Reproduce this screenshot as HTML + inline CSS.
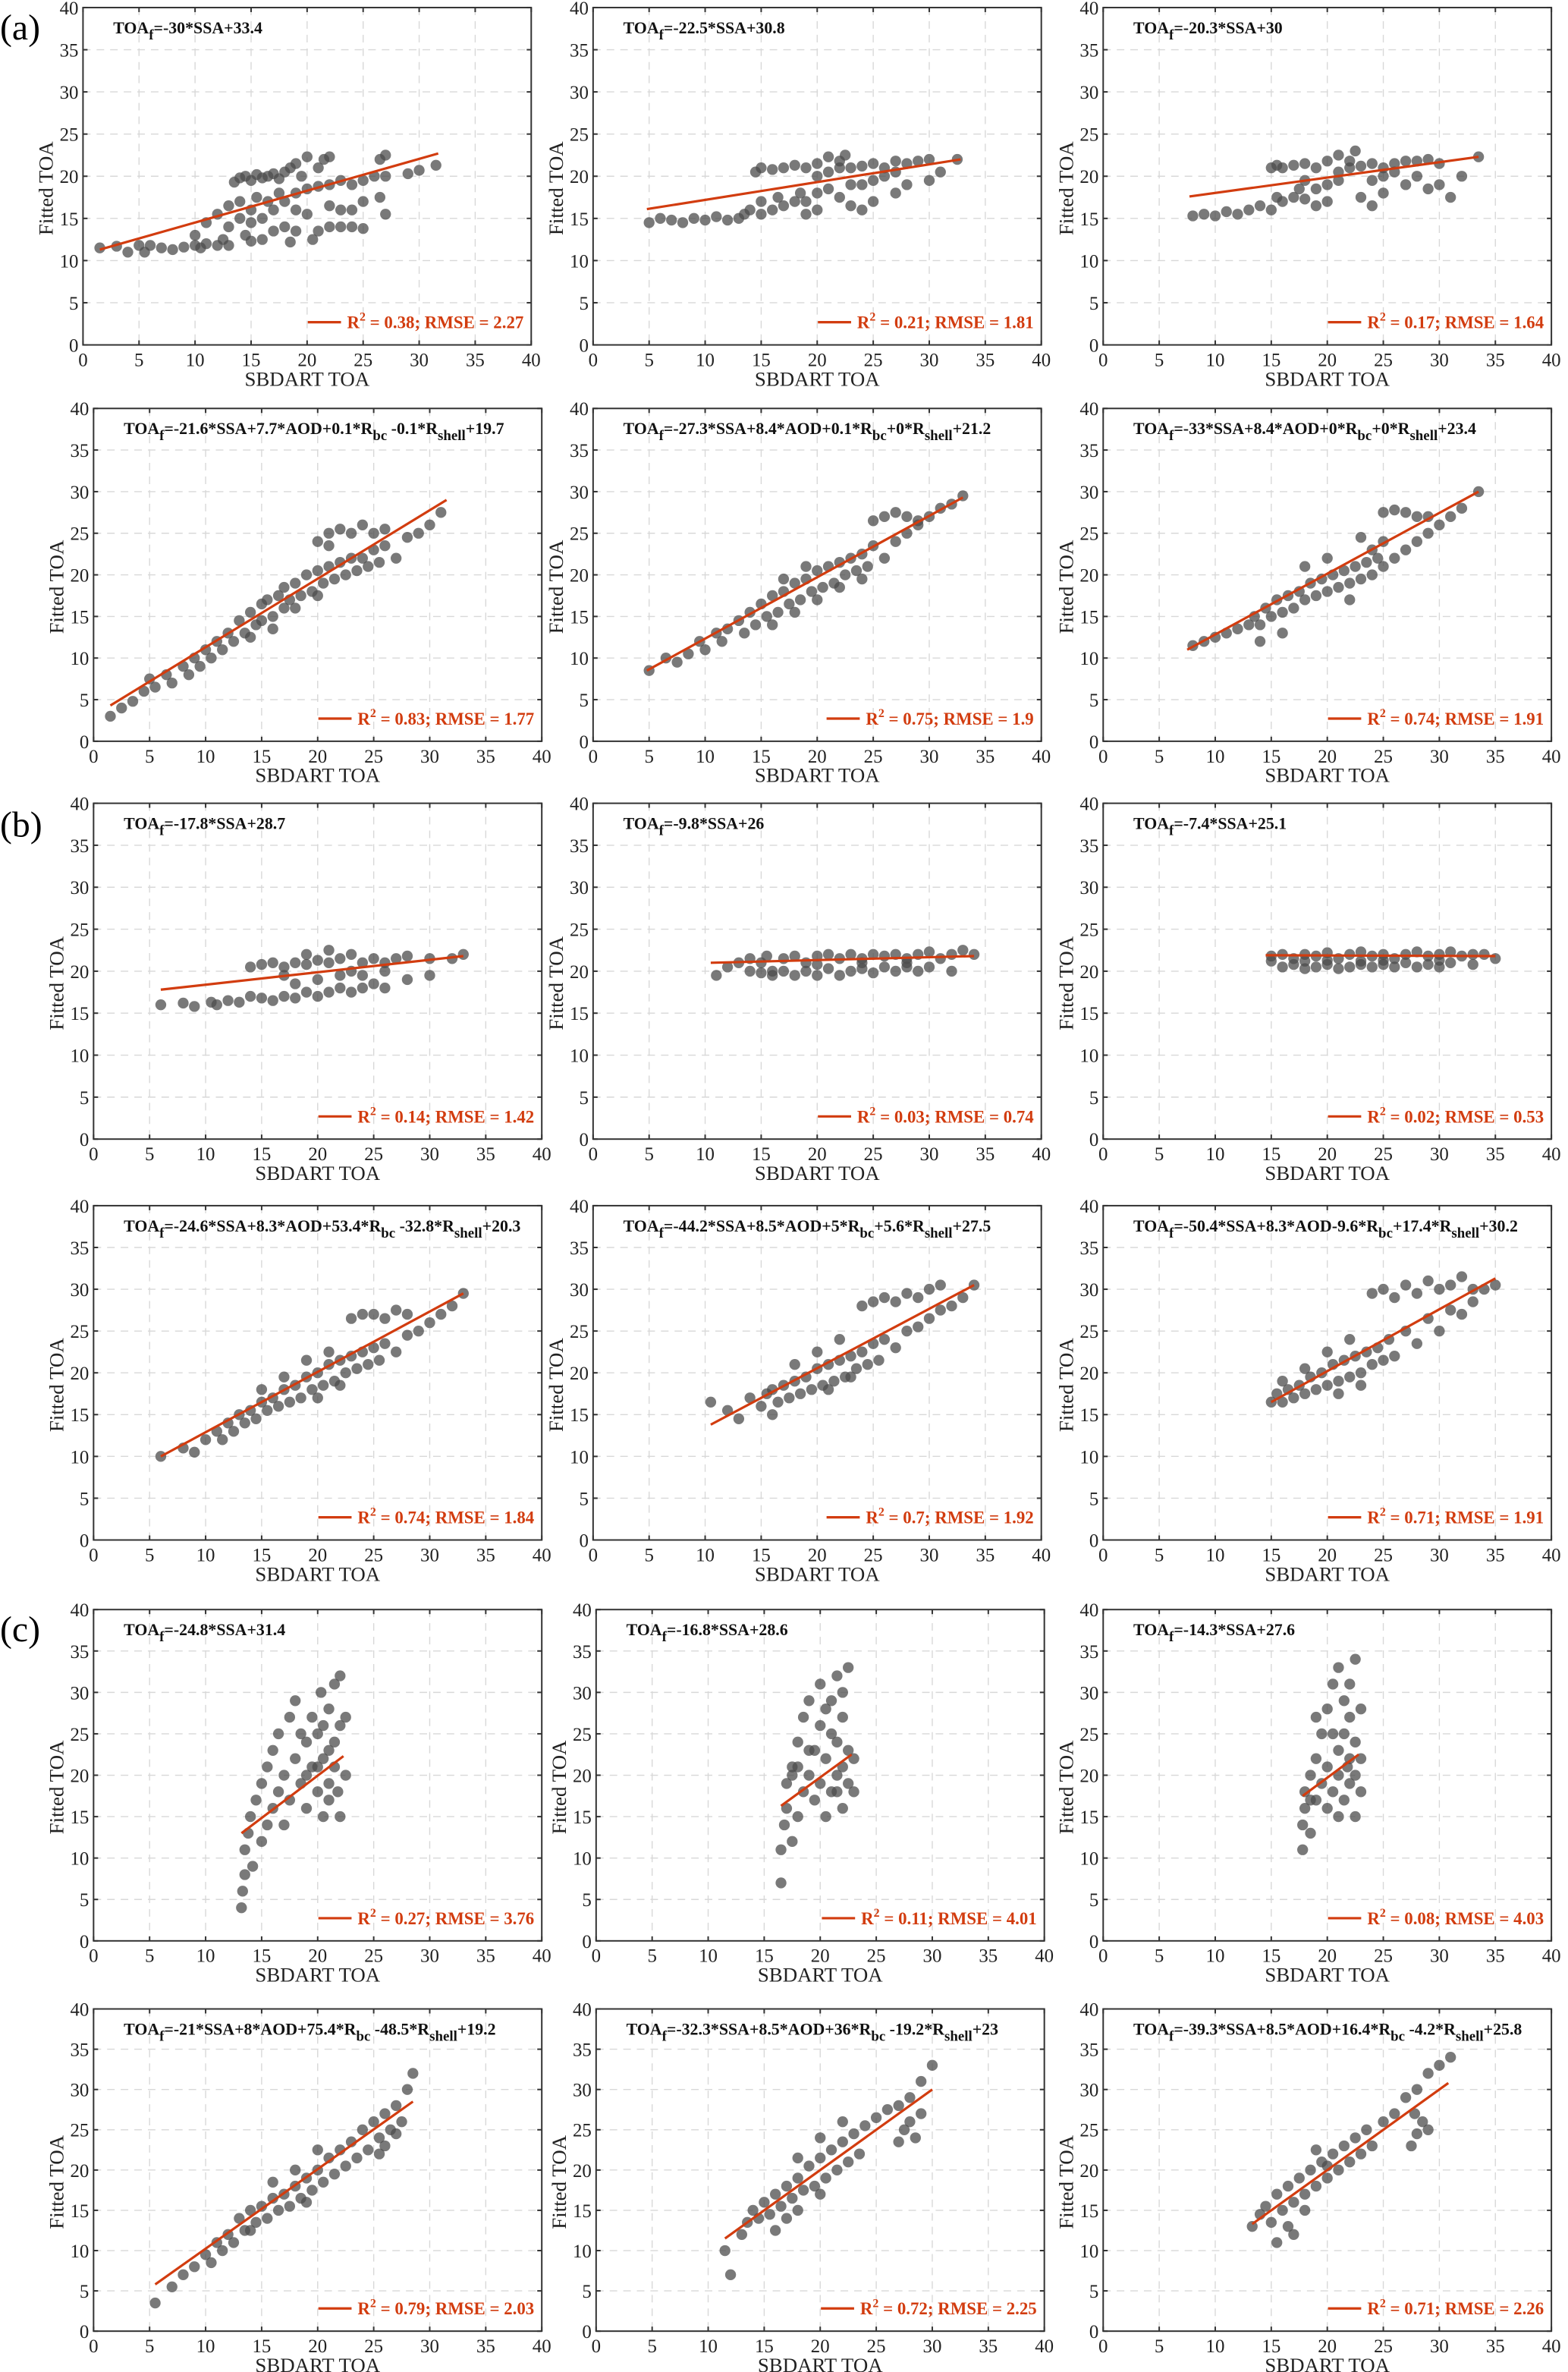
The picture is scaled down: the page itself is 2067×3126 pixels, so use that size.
<!DOCTYPE html>
<html><head><meta charset="utf-8"><style>
html,body{margin:0;padding:0;background:#fff;}
svg{display:block;}
svg text{font-family:"Liberation Serif","Times New Roman",serif;}
</style></head><body>
<svg id="fig" width="2067" height="3126" viewBox="0 0 1039 1568" preserveAspectRatio="none" xmlns="http://www.w3.org/2000/svg"></svg>
<script>
// ---- data ----
const xTicks=[0,5,10,15,20,25,30,35,40];
const yTicks=[0,5,10,15,20,25,30,35,40];
const panelIds=["a1","a2","a3","a4","a5","a6","b1","b2","b3","b4","b5","b6","c1","c2","c3","c4","c5","c6"];
const equations=[
"TOA_{f}=-30*SSA+33.4","TOA_{f}=-22.5*SSA+30.8","TOA_{f}=-20.3*SSA+30",
"TOA_{f}=-21.6*SSA+7.7*AOD+0.1*R_{bc} -0.1*R_{shell}+19.7","TOA_{f}=-27.3*SSA+8.4*AOD+0.1*R_{bc}+0*R_{shell}+21.2","TOA_{f}=-33*SSA+8.4*AOD+0*R_{bc}+0*R_{shell}+23.4",
"TOA_{f}=-17.8*SSA+28.7","TOA_{f}=-9.8*SSA+26","TOA_{f}=-7.4*SSA+25.1",
"TOA_{f}=-24.6*SSA+8.3*AOD+53.4*R_{bc} -32.8*R_{shell}+20.3","TOA_{f}=-44.2*SSA+8.5*AOD+5*R_{bc}+5.6*R_{shell}+27.5","TOA_{f}=-50.4*SSA+8.3*AOD-9.6*R_{bc}+17.4*R_{shell}+30.2",
"TOA_{f}=-24.8*SSA+31.4","TOA_{f}=-16.8*SSA+28.6","TOA_{f}=-14.3*SSA+27.6",
"TOA_{f}=-21*SSA+8*AOD+75.4*R_{bc} -48.5*R_{shell}+19.2","TOA_{f}=-32.3*SSA+8.5*AOD+36*R_{bc} -19.2*R_{shell}+23","TOA_{f}=-39.3*SSA+8.5*AOD+16.4*R_{bc} -4.2*R_{shell}+25.8"];
const r2Values=["0.38","0.21","0.17","0.83","0.75","0.74","0.14","0.03","0.02","0.74","0.7","0.71","0.27","0.11","0.08","0.79","0.72","0.71"];
const rmseValues=["2.27","1.81","1.64","1.77","1.9","1.91","1.42","0.74","0.53","1.84","1.92","1.91","3.76","4.01","4.03","2.03","2.25","2.26"];
const fitX0=[1.5,4.8,7.7,1.5,4.8,7.5,6,10.5,14.5,6,10.5,15,13.2,16.5,17.8,5.5,11.5,13.3];
const fitY0=[11.3,16.1,17.6,4.3,8.5,11,17.8,21,21.9,10,13.8,16.5,13,16.3,17.5,5.8,11.5,13.3];
const fitX1=[31.7,32.8,33.5,31.5,33,33.5,33,34,35,33,34,35,22.3,22.8,22.8,28.5,30,30.8];
const fitY1=[22.7,22,22.3,29,29.3,30,21.8,21.8,21.8,29.5,30.5,31.3,22.3,22.5,22.5,28.5,30,30.8];
const pointsA1=[[1.5,11.5],[3,11.7],[4,11],[5,11.8],[5.5,11],[6,11.8],[7,11.5],[8,11.3],[9,11.6],[10,11.8],[10.5,11.5],[11,12],[12,11.8],[12.5,12.5],[13,11.8],[10,13],[11,14.5],[12,15.5],[13,14],[13,16.5],[14,15],[14,17],[14.5,13],[15,14.5],[15,16],[15.5,17.5],[16,15],[16.5,17],[17,16],[17.5,18],[18,17],[13.5,19.3],[14,19.8],[14.5,20],[15,19.5],[15.5,20.2],[16,19.8],[16.5,20],[17,20.3],[17.5,19.7],[18,20.5],[18.5,21],[19,21.5],[19.5,20],[20,22.3],[21,21],[21.5,22],[22,22.3],[19,18],[20,18.5],[21,18.8],[22,19],[23,19.5],[24,19],[25,19.5],[26,20],[27,20],[27,22.5],[26.5,22],[29,20.3],[30,20.7],[31.5,21.3],[15,12.3],[16,12.5],[18.5,12.2],[19,13.5],[20.5,12.5],[21,13.5],[22,14],[23,14],[24,14],[25,13.8],[20,15.5],[22,16.5],[23,16],[24,16],[25,17],[26.5,17.5],[27,15.5],[18,14],[19,16],[17,13.5]];
const pointsA2=[[5,14.5],[6,15],[7,14.8],[8,14.5],[9,15],[10,14.8],[11,15.2],[12,14.8],[13,15],[13.5,15.5],[14,16],[15,15.5],[15,17],[16,16],[16.5,17.5],[17,16.5],[18,17],[18.5,18],[19,17],[20,18],[21,18.5],[14.5,20.5],[15,21],[16,20.8],[17,21],[18,21.3],[19,21],[20,21.5],[21,22.3],[22,21.8],[22.5,22.5],[20,20],[21,20.5],[22,21],[23,21],[24,21.2],[25,21.5],[26,21],[27,21.8],[28,21.5],[29,21.8],[30,22],[32.5,22],[24,19],[25,19.5],[26,20],[27,20.5],[22,17.5],[23,16.5],[24,16],[25,17],[27,18],[28,19],[30,19.5],[31,20.5],[20,16],[19,15.5],[23,19]];
const pointsA3=[[8,15.3],[9,15.5],[10,15.3],[11,15.8],[12,15.5],[13,16],[14,16.5],[15,16],[15.5,17.5],[16,17],[17,17.5],[17.5,18.5],[18,17.3],[19,18.5],[20,19],[21,19.5],[15,21],[15.5,21.3],[16,21],[17,21.3],[18,21.5],[19,21],[20,21.8],[21,22.5],[22,21.8],[22.5,23],[21,20.5],[22,21],[23,21.2],[24,21.5],[25,21],[26,21.5],[27,21.8],[28,21.8],[29,22],[30,21.5],[33.5,22.3],[24,19.5],[25,20],[26,20.5],[27,19],[28,20],[29,18.5],[30,19],[31,17.5],[32,20],[23,17.5],[24,16.5],[25,18],[20,17],[19,16.5],[18,19.5]];
const pointsA4=[[1.5,3],[2.5,4],[3.5,4.8],[4.5,6],[5,7.5],[5.5,6.5],[6.5,8],[7,7],[8,9],[8.5,8],[9,10],[9.5,9],[10,11],[10.5,10],[11,12],[11.5,11],[12,13],[12.5,12],[13,14.5],[13.5,13],[14,15.5],[14.5,14],[15,16.5],[15,14.5],[15.5,17],[16,15],[16.5,17.5],[17,16],[17,18.5],[17.5,17],[18,19],[18.5,17.5],[19,20],[19.5,18],[20,20.5],[20.5,19],[21,21],[21.5,19.5],[22,21.5],[22.5,20],[23,22],[23.5,20.5],[24,22],[24.5,21],[25,23],[25.5,21.5],[26,23.5],[27,22],[28,24.5],[29,25],[30,26],[31,27.5],[20,24],[21,25],[22,25.5],[23,25],[24,26],[25,25],[26,25.5],[21,23.5],[18,16],[20,17.5],[16,13.5],[14,12.5]];
const pointsA5=[[5,8.5],[6.5,10],[7.5,9.5],[8.5,10.5],[9.5,12],[10,11],[11,13],[11.5,12],[12,13.5],[13,14.5],[13.5,13],[14,15.5],[14.5,14],[15,16.5],[15.5,15],[16,17.5],[16.5,15.5],[17,18],[17.5,16.5],[18,19],[18.5,17],[19,19.5],[19.5,18],[20,20.5],[20.5,18.5],[21,21],[21.5,19],[22,21.5],[22.5,20],[23,22],[23.5,20.5],[24,22.5],[24.5,21],[25,23.5],[26,22],[27,24],[28,25],[29,26],[30,27],[31,28],[32,28.5],[33,29.5],[25,26.5],[26,27],[27,27.5],[28,27],[29,26.5],[16,14],[18,15.5],[20,17],[22,18.5],[17,19.5],[19,21],[24,19.5]];
const pointsA6=[[8,11.5],[9,12],[10,12.5],[11,13],[12,13.5],[13,14],[13.5,15],[14,14],[14.5,16],[15,15],[15.5,17],[16,15.5],[16.5,17.5],[17,16],[17.5,18],[18,17],[18.5,19],[19,17.5],[19.5,19.5],[20,18],[20.5,20],[21,18.5],[21.5,20.5],[22,19],[22.5,21],[23,19.5],[23.5,21.5],[24,20],[24.5,22],[25,21],[26,22],[27,23],[28,24],[29,25],[30,26],[31,27],[32,28],[33.5,30],[25,27.5],[26,27.8],[27,27.5],[28,27],[29,27],[24,23],[25,24],[18,21],[20,22],[16,13],[14,12],[22,17],[23,24.5]];
const pointsB1=[[6,16],[8,16.2],[9,15.8],[10.5,16.3],[11,16],[12,16.5],[13,16.3],[14,17],[15,16.8],[16,16.5],[17,17],[18,16.8],[19,17.5],[20,17],[21,17.5],[22,18],[23,17.5],[24,18],[25,18.5],[26,18],[28,19],[30,19.5],[14,20.5],[15,20.8],[16,21],[17,20.5],[18,21],[19,20.8],[20,21.3],[21,21],[22,21.5],[23,22],[24,21],[25,21.5],[26,21],[27,21.5],[28,21.8],[30,21.5],[32,21.5],[33,22],[18,18.5],[20,19],[22,19.5],[24,19.5],[26,20],[19,22],[21,22.5],[17,19.5],[23,20]];
const pointsB2=[[11,19.5],[12,20.5],[13,21],[14,21.5],[15,21],[15.5,21.8],[16,20],[17,21.5],[18,21.8],[19,21],[20,21.8],[21,22],[22,21.5],[23,22],[24,21.5],[25,22],[26,21.8],[27,22],[28,21.5],[29,22],[30,22.3],[31,21.5],[32,22],[33,22.5],[34,22],[16,19.5],[17,20],[18,19.5],[19,20],[20,19.5],[21,20.3],[22,19.5],[23,20],[24,20.3],[25,19.8],[26,20.5],[27,20],[28,20.5],[29,20],[30,20.5],[32,20],[14,20],[15,19.8],[20,20.8],[24,21],[28,21]];
const pointsB3=[[15,21.8],[16,22],[17,21.5],[18,22],[19,21.8],[20,22.2],[21,21.5],[22,22],[23,22.3],[24,21.8],[25,22],[26,21.5],[27,22],[28,22.3],[29,21.8],[30,22],[31,22.3],[32,21.8],[33,22],[34,22],[35,21.5],[16,20.5],[17,20.8],[18,20.3],[19,20.5],[20,20.8],[21,20.3],[22,20.5],[23,20.8],[24,20.5],[25,20.8],[26,20.5],[27,21],[28,20.5],[29,20.8],[30,20.5],[31,21],[33,20.8],[15,21.2],[20,21.3],[25,21.3],[30,21.3],[18,21.2],[23,21.2]];
const pointsB4=[[6,10],[8,11],[9,10.5],[10,12],[11,13],[11.5,12],[12,14],[12.5,13],[13,15],[13.5,14],[14,15.5],[14.5,14.5],[15,16.5],[15.5,15.5],[16,17],[16.5,16],[17,18],[17.5,16.5],[18,18.5],[18.5,17],[19,19.5],[19.5,18],[20,20],[20.5,18.5],[21,21],[21.5,19],[22,21.5],[22.5,20],[23,22],[23.5,20.5],[24,22.5],[24.5,21],[25,23],[25.5,21.5],[26,23.5],[27,22.5],[28,24.5],[29,25],[30,26],[31,27],[32,28],[33,29.5],[23,26.5],[24,27],[25,27],[26,26.5],[27,27.5],[28,27],[17,19.5],[19,21.5],[21,22.5],[15,18],[20,17],[22,18.5]];
const pointsB5=[[10.5,16.5],[12,15.5],[13,14.5],[14,17],[15,16],[15.5,17.5],[16,18],[16.5,16.5],[17,18.5],[17.5,17],[18,19],[18.5,17.5],[19,19.5],[19.5,18],[20,20.5],[20.5,18.5],[21,21],[21.5,19],[22,21.5],[22.5,19.5],[23,22],[23.5,20.5],[24,22.5],[24.5,21],[25,23.5],[25.5,21.5],[26,24],[27,23],[28,25],[29,25.5],[30,26.5],[31,27.5],[32,28],[33,29],[34,30.5],[24,28],[25,28.5],[26,29],[27,28.5],[28,29.5],[29,29],[30,30],[31,30.5],[22,24],[20,22.5],[18,21],[16,15],[21,18],[23,19.5]];
const pointsB6=[[15,16.5],[15.5,17.5],[16,16.5],[16.5,18],[17,17],[17.5,18.5],[18,17.5],[18.5,19.5],[19,18],[19.5,20],[20,18.5],[20.5,21],[21,19],[21.5,21.5],[22,19.5],[22.5,22],[23,20],[23.5,22.5],[24,21],[24.5,23],[25,21.5],[25.5,24],[26,22],[27,25],[28,23.5],[29,26.5],[30,25],[31,27.5],[32,27],[33,28.5],[34,30],[35,30.5],[24,29.5],[25,30],[26,29],[27,30.5],[28,29.5],[29,31],[30,30],[31,30.5],[32,31.5],[33,30],[18,20.5],[20,22.5],[22,24],[16,19],[21,17.5],[23,18.5]];
const pointsC1=[[13.2,4],[13.3,6],[13.5,8],[13.5,11],[13.8,13],[14,15],[14.2,9],[14.5,17],[15,12],[15,19],[15.5,14],[15.5,21],[16,16],[16,23],[16.5,18],[16.5,25],[17,14],[17,20],[17.5,27],[17.5,17],[18,22],[18,29],[18.5,19],[19,24],[19,16],[19.5,21],[19.5,27],[20,18],[20,25],[20.3,30],[20.5,15],[20.5,22],[21,28],[21,19],[21,17],[21.5,24],[21.5,31],[21.5,21],[22,26],[22,15],[22,32],[22.5,27],[22.5,20],[20,21],[19,20],[21,23],[20.5,26],[18.5,25],[21.8,18]];
const pointsC2=[[16.5,7],[16.5,11],[16.8,14],[17,16],[17,19],[17.5,12],[17.5,21],[18,15],[18,24],[18.5,18],[18.5,27],[19,20],[19,29],[19.5,17],[19.5,23],[20,19],[20,26],[20,31],[20.5,15],[20.5,22],[21,18],[21,25],[21,29],[21.5,20],[21.5,24],[21.5,32],[22,16],[22,21],[22,27],[22.5,19],[22.5,23],[22.5,33],[23,22],[23,18],[18,21],[19,23],[20.5,28],[21.5,18],[22,30],[17.5,20]];
const pointsC3=[[17.8,11],[17.8,14],[18,16],[18,18],[18.5,13],[18.5,20],[19,17],[19,22],[19.5,19],[19.5,25],[20,16],[20,21],[20,28],[20.5,18],[20.5,31],[21,20],[21,23],[21,33],[21.5,17],[21.5,25],[21.5,29],[22,19],[22,22],[22,27],[22,31],[22.5,15],[22.5,20],[22.5,24],[22.5,34],[23,18],[23,22],[23,28],[19,27],[20.5,25],[21,15],[18.5,17],[21.8,21]];
const pointsC4=[[5.5,3.5],[7,5.5],[8,7],[9,8],[10,9.5],[10.5,8.5],[11,11],[11.5,10],[12,12],[12.5,11],[13,14],[13.5,12.5],[14,15],[14.5,13.5],[15,15.5],[15.5,14],[16,16.5],[16.5,15],[17,17],[17.5,15.5],[18,18],[18.5,16.5],[19,19],[19.5,17.5],[20,20],[20.5,18.5],[21,21.5],[21.5,19.5],[22,22.5],[22.5,20.5],[23,23.5],[23.5,21.5],[24,25],[24.5,22.5],[25,26],[25.5,24],[26,27],[27,28],[28,30],[28.5,32],[25.5,22],[26,23],[26.5,25],[27,24.5],[27.5,26],[16,18.5],[18,20],[20,22.5],[14,12.5],[19,16]];
const pointsC5=[[11.5,10],[12,7],[13,12],[13.5,13.5],[14,15],[14.5,14],[15,16],[15.5,14.5],[16,17],[16.5,15.5],[17,18],[17.5,16.5],[18,19],[18.5,17.5],[19,20.5],[19.5,18],[20,21.5],[20.5,19],[21,22.5],[21.5,20],[22,23.5],[22.5,21],[23,24.5],[23.5,22],[24,25.5],[25,26.5],[26,27.5],[27,28],[28,29],[29,31],[30,33],[27,23.5],[27.5,25],[28,26],[28.5,24],[29,27],[16,12.5],[17,14],[18,15],[20,17],[18,21.5],[20,24],[22,26]];
const pointsC6=[[13.3,13],[14,14.5],[14.5,15.5],[15,13.5],[15.5,17],[16,15],[16.5,18],[16.5,13],[17,16],[17.5,19],[18,17],[18,15],[18.5,20],[19,18],[19.5,21],[20,19],[20.5,22],[21,20],[21.5,23],[22,21],[22.5,24],[23,22],[23.5,25],[24,23],[25,26],[26,27],[27,29],[28,30],[29,32],[30,33],[31,34],[27.5,23],[28,24.5],[28.5,26],[29,25],[27.8,27],[15.5,11],[17,12],[20,20.5],[19,22.5]];
const allPoints=[pointsA1,pointsA2,pointsA3,pointsA4,pointsA5,pointsA6,pointsB1,pointsB2,pointsB3,pointsB4,pointsB5,pointsB6,pointsC1,pointsC2,pointsC3,pointsC4,pointsC5,pointsC6];

// ---- layout (display units) ----
const NS="http://www.w3.org/2000/svg";
const svg=document.getElementById('fig');
const rowTops=[5,270,531,797,1064,1328];
const rowBottoms=[228,490,753,1018,1283,1541];
const PW=297;
function colLeft(r,c){ if(c===0) return r===0?55:62; if(c===1) return r>=4?395:393; return 731; }
function mk(tag,attrs,parent){const e=document.createElementNS(NS,tag);for(const k in attrs)e.setAttribute(k,attrs[k]);(parent||svg).appendChild(e);return e;}

["(a)","(b)","(c)"].forEach((t,i)=>{
  const e=mk('text',{x:0,y:[26,553,1085][i],'font-size':24});
  
  
  e.textContent=t;
});

panelIds.forEach((pid,i)=>{
  const r=Math.floor(i/3), c=i%3;
  const L=colLeft(r,c), T=rowTops[r], PH=rowBottoms[r]-rowTops[r];
  const sx=v=>L+v/40*PW, sy=v=>T+PH-v/40*PH;
  const g=mk('g',{});
  
  
  xTicks.forEach(t=>{ if(t>0&&t<40){ const l=mk('line',{x1:sx(t),x2:sx(t),y1:T,y2:T+PH,stroke:'#d8d8d8','stroke-width':0.7,'stroke-dasharray':'5,4'},g);   }});
  yTicks.forEach(t=>{ if(t>0&&t<40){ const l=mk('line',{y1:sy(t),y2:sy(t),x1:L,x2:L+PW,stroke:'#d8d8d8','stroke-width':0.7,'stroke-dasharray':'5,4'},g);   }});
  const pg=mk('g',{fill:'#4c4c4c','fill-opacity':0.75},g);
  
  
  allPoints[i].forEach(p=>{
    const ci=mk('circle',{cx:sx(p[0]),cy:sy(p[1]),r:3.6},pg);
    
    
  });
  const fl=mk('line',{x1:sx(fitX0[i]),y1:sy(fitY0[i]),x2:sx(fitX1[i]),y2:sy(fitY1[i]),stroke:'#d23c0f','stroke-width':1.6},g);
  
  
  const bx=mk('rect',{x:L,y:T,width:PW,height:PH,fill:'none',stroke:'#333','stroke-width':1},g);
  
  
  xTicks.forEach(t=>{
    mk('line',{x1:sx(t),x2:sx(t),y1:T+PH,y2:T+PH-3,stroke:'#333'},g);
    mk('line',{x1:sx(t),x2:sx(t),y1:T,y2:T+3,stroke:'#333'},g);
    const tl=mk('text',{x:sx(t),y:T+PH+14,'font-size':12.5,'text-anchor':'middle',fill:'#222'},g);
    
    
    tl.textContent=t;
  });
  yTicks.forEach(t=>{
    mk('line',{y1:sy(t),y2:sy(t),x1:L,x2:L+3,stroke:'#333'},g);
    mk('line',{y1:sy(t),y2:sy(t),x1:L+PW,x2:L+PW-3,stroke:'#333'},g);
    const tl=mk('text',{x:L-3,y:sy(t)+4.5,'font-size':12.5,'text-anchor':'end',fill:'#222'},g);
    
    
    tl.textContent=t;
  });
  const xl=mk('text',{x:L+PW/2,y:T+PH+27,'font-size':13.5,'text-anchor':'middle',fill:'#222'},g);
  
  
  xl.textContent='SBDART TOA';
  const yl=mk('text',{x:0,y:0,'font-size':13.5,'text-anchor':'middle',fill:'#222',transform:`translate(${L-20},${T+PH/2+8}) rotate(-90)`},g);
  
  
  yl.textContent='Fitted TOA';
  const eq=mk('text',{x:L+20,y:T+17,'font-size':11,'font-weight':'bold',fill:'#111'},g);
  
  
  equations[i].split(/(_\{[^}]*\})/).forEach(seg=>{
    if(!seg) return;
    const ts=document.createElementNS(NS,'tspan');
    if(seg.startsWith('_{')){ ts.textContent=seg.slice(2,-1); ts.setAttribute('dy','4'); ts.setAttribute('font-size','9.5'); }
    else { ts.textContent=seg; ts.setAttribute('dy', eq.childNodes.length? '-4':'0'); }
    eq.appendChild(ts);
  });
  const lg=mk('text',{x:L+PW-5,y:T+PH-11,'font-size':11.5,'font-weight':'bold',fill:'#d23c0f','text-anchor':'end'},g);
  
  
  const t1=document.createElementNS(NS,'tspan'); t1.textContent='R'; lg.appendChild(t1);
  const t2=document.createElementNS(NS,'tspan'); t2.textContent='2'; t2.setAttribute('dy','-5'); t2.setAttribute('font-size','8'); lg.appendChild(t2);
  const t3=document.createElementNS(NS,'tspan'); t3.textContent=' = '+r2Values[i]+'; RMSE = '+rmseValues[i]; t3.setAttribute('dy','5'); lg.appendChild(t3);
  let w=120; try{ w=lg.getComputedTextLength(); }catch(e){}
  const ls=mk('line',{x1:L+PW-5-w-26,x2:L+PW-5-w-4,y1:T+PH-15,y2:T+PH-15,stroke:'#d23c0f','stroke-width':1.6},g);
  
  
});
</script>
</body></html>
